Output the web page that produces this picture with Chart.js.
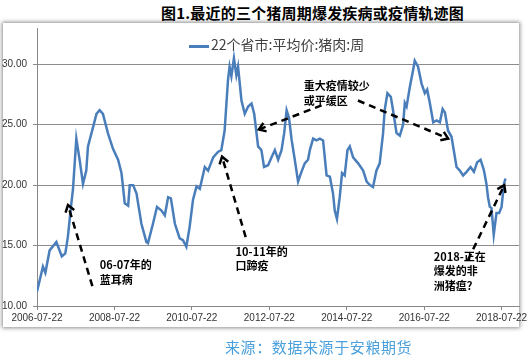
<!DOCTYPE html>
<html>

<head>
    <meta charset="utf-8" />
    <title>猪周期</title>
    <style>
        body { margin: 0; background: #fff; font-family: "Noto Sans CJK SC", sans-serif; }
        .page { position: relative; width: 532px; height: 362px; overflow: hidden; }
        .titulo { position: absolute; left: 161px; top: 2px; font-size: 15px; font-weight: bold; color: #000; white-space: nowrap; letter-spacing: 0.2px; }
        .caja { position: absolute; left: 3px; top: 23px; width: 516px; height: 304px; background: #fff;
                box-shadow: 0 0 4px 1px rgba(0, 0, 0, 0.45); }
        .leyenda { position: absolute; left: 189px; top: 34px; font-size: 14px; color: #404040; white-space: nowrap; }
        .leyenda span { display: inline-block; width: 20px; height: 3px; background: #4a7ebb; vertical-align: middle; margin-right: 2px; }
        .fuente { position: absolute; left: 225px; top: 336px; font-size: 15px; color: #4aa0dc; white-space: nowrap; letter-spacing: 0.6px; }
        canvas { position: absolute; left: 0; top: 0; }
    </style>
</head>

<body>
    <div class="page">
        <div class="titulo">图1.最近的三个猪周期爆发疾病或疫情轨迹图</div>
        <div class="caja"></div>
        <canvas id="chart" width="532" height="362"></canvas>
        <div class="leyenda"><span></span>22个省市:平均价:猪肉:周</div>
        <div class="fuente">来源：数据来源于安粮期货</div>
    </div>

    <script src="https://cdn.jsdelivr.net/npm/chart.js"></script>
    <script type="text/javascript">

        // fechas y precios
        const fechas = [
            '2006-07-22', '2006-09-16', '2006-10-09', '2006-11-18', '2007-01-21', '2007-03-13', '2007-04-15', '2007-05-09', '2007-06-11', '2007-06-26',
            '2007-07-28', '2007-08-28', '2007-09-29', '2007-10-30', '2007-11-15', '2008-01-02', '2008-02-03', '2008-03-04', '2008-04-04', '2008-05-21',
            '2008-07-08', '2008-08-25', '2008-09-26', '2008-10-27', '2008-11-28', '2008-12-13', '2009-01-14', '2009-02-15', '2009-04-02', '2009-05-19',
            '2009-06-03', '2009-07-20', '2009-08-27', '2009-10-08', '2009-11-09', '2009-12-10', '2010-01-05', '2010-02-12', '2010-03-29', '2010-04-29',
            '2010-05-31', '2010-07-01', '2010-08-02', '2010-09-04', '2010-10-05', '2010-11-21', '2010-12-22', '2011-02-08', '2011-03-25', '2011-04-26',
            '2011-05-27', '2011-06-28', '2011-07-13', '2011-07-30', '2011-08-23', '2011-09-15', '2011-10-01', '2011-11-02', '2011-12-03', '2012-01-04',
            '2012-02-05', '2012-03-01', '2012-04-07', '2012-05-08', '2012-06-02', '2012-07-10', '2012-08-12', '2012-09-12', '2012-10-13', '2012-11-14',
            '2012-12-09', '2013-01-01', '2013-01-23', '2013-02-18', '2013-03-19', '2013-04-19', '2013-05-21', '2013-06-21', '2013-07-22', '2013-08-08',
            '2013-09-08', '2013-10-10', '2013-11-10', '2013-12-11', '2014-01-13', '2014-02-13', '2014-03-15', '2014-03-31', '2014-04-21', '2014-05-17',
            '2014-06-08', '2014-07-03', '2014-07-29', '2014-08-20', '2014-09-20', '2014-11-07', '2014-12-24', '2015-01-26', '2015-02-26', '2015-03-27',
            '2015-04-28', '2015-05-29', '2015-06-30', '2015-07-15', '2015-08-10', '2015-09-11', '2015-10-02', '2015-11-04', '2015-12-05', '2016-01-05',
            '2016-01-21', '2016-02-07', '2016-03-08', '2016-04-08', '2016-04-24', '2016-05-25', '2016-06-27', '2016-07-28', '2016-08-19', '2016-09-14',
            '2016-10-15', '2016-11-16', '2016-12-17', '2017-01-12', '2017-02-03', '2017-03-04', '2017-04-06', '2017-04-21', '2017-05-23', '2017-06-23',
            '2017-07-24', '2017-08-26', '2017-10-02', '2017-11-03', '2017-12-04', '2018-01-05', '2018-02-06', '2018-03-01', '2018-03-16', '2018-04-02',
            '2018-04-18', '2018-05-09', '2018-06-04', '2018-06-29', '2018-07-22', '2018-08-13', '2018-08-28'
        ];

        const precios = [
            11.2, 13.25, 12.75, 14.6, 15.3, 14.1, 14.35, 15.7, 18.5, 19.6,
            23.85, 22.1, 20.1, 21.2, 23.2, 24.8, 25.9, 26.2, 25.9, 24.3,
            23.0, 22.1, 21.0, 18.5, 18.3, 20.0, 20.0, 19.3, 16.8, 15.3,
            15.2, 16.8, 18.2, 17.9, 17.5, 19.0, 18.9, 16.8, 15.6, 15.45,
            14.9, 16.55, 18.8, 19.9, 19.7, 21.5, 21.2, 22.3, 22.75, 22.9,
            24.5, 28.7, 29.8, 29.0, 30.5, 29.1, 29.8, 27.0, 25.9, 26.5,
            26.75, 25.9, 23.2, 22.9, 21.5, 21.65, 22.3, 22.9, 22.1, 22.9,
            24.3, 26.2, 25.6, 23.7, 22.1, 20.3, 21.1, 21.8, 22.1, 22.9,
            23.85, 23.7, 23.85, 23.7, 20.8, 20.7, 19.3, 17.9, 17.2, 19.0,
            21.0, 20.8, 22.9, 23.2, 22.3, 21.8, 21.2, 20.3, 20.0, 19.85,
            21.2, 21.8, 24.3, 26.2, 27.6, 27.3, 26.2, 24.3, 24.1, 25.0,
            26.8, 26.5, 28.1, 29.5, 30.3, 29.8, 28.4, 27.6, 27.9, 26.75,
            25.2, 25.35, 25.2, 26.3, 26.0, 24.5, 24.0, 23.2, 21.5, 21.2,
            20.8, 21.1, 21.5, 21.1, 21.9, 22.1, 21.2, 20.1, 19.0, 18.2,
            18.1, 15.9, 17.7, 17.7, 18.2, 20.1, 20.55
        ];

        const etiquetasX = ['2006-07-22', '2008-07-22', '2010-07-22', '2012-07-22', '2014-07-22', '2016-07-22', '2018-07-22'];
        const ticksY = [10, 15, 20, 25, 30];

        // flechas de las notas: [años desde el inicio, precio]
        const flechaDesde = [[1.43, 11.65], [5.39, 15.7], [7.35, 26.6], [8.29, 27.0], [11.13, 13.8]];
        const flechaHasta = [[0.80, 18.35], [4.78, 22.35], [5.73, 24.6], [10.62, 23.85], [12.07, 20.0]];
        const notas = ['06-07年的', '蓝耳病', '10-11年的', '口蹄疫', '重大疫情较少', '或平缓区', '2018-正在', '爆发的非', '洲猪瘟？'];
        const notasPos = [[1.62, 13.4], [1.62, 12.2], [5.13, 14.5], [5.13, 13.3], [6.89, 28.25], [6.89, 26.95], [10.25, 14.05], [10.25, 12.9], [10.25, 11.65]];

        const inicio = Date.parse('2006-07-22');
        function anios(f) {
            return (Date.parse(f) - inicio) / (365.25 * 864e5);
        }

        // dibuja las flechas punteadas y los textos
        const notasPlugin = {
            id: 'notas',
            afterDatasetsDraw(chart) {
                const ctx = chart.ctx;
                const x = chart.scales.x;
                const y = chart.scales.y;
                ctx.save();
                ctx.fillStyle = '#000';
                ctx.font = 'bold 11px "Noto Sans CJK SC"';
                ctx.textBaseline = 'middle';
                ctx.textAlign = 'left';
                notas.forEach((t, i) => {
                    ctx.fillText(t, x.getPixelForValue(notasPos[i][0]), y.getPixelForValue(notasPos[i][1]));
                });
                ctx.strokeStyle = '#000';
                ctx.lineWidth = 2.5;
                flechaDesde.forEach((d, i) => {
                    const h = flechaHasta[i];
                    const x1 = x.getPixelForValue(d[0]), y1 = y.getPixelForValue(d[1]);
                    const x2 = x.getPixelForValue(h[0]), y2 = y.getPixelForValue(h[1]);
                    ctx.setLineDash([7, 5]);
                    ctx.beginPath();
                    ctx.moveTo(x1, y1);
                    ctx.lineTo(x2, y2);
                    ctx.stroke();
                    const ang = Math.atan2(y2 - y1, x2 - x1);
                    ctx.setLineDash([]);
                    ctx.beginPath();
                    ctx.moveTo(x2 - 8 * Math.cos(ang - 0.6), y2 - 8 * Math.sin(ang - 0.6));
                    ctx.lineTo(x2, y2);
                    ctx.lineTo(x2 - 8 * Math.cos(ang + 0.6), y2 - 8 * Math.sin(ang + 0.6));
                    ctx.stroke();
                });
                ctx.restore();
            }
        };

        const ctx = document.getElementById('chart').getContext('2d');
        const myChart = new Chart(ctx, {
            type: 'line',
            data: {
                datasets: [{
                    label: '22个省市:平均价:猪肉:周',
                    data: fechas.map((f, i) => ({ x: anios(f), y: precios[i] })),
                    borderColor: '#4a7ebb',
                    borderWidth: 2.5,
                    pointRadius: 0,
                    tension: 0
                }]
            },
            options: {
                responsive: false,
                animation: false,
                layout: { padding: { left: 0, right: 13, top: 28, bottom: 36 } },
                plugins: {
                    legend: { display: false },
                    tooltip: { enabled: false }
                },
                scales: {
                    x: {
                        type: 'linear',
                        min: 0,
                        max: 12.45,
                        afterBuildTicks: s => { s.ticks = etiquetasX.map(e => ({ value: anios(e) })); },
                        afterFit: s => { s.height = 20; },
                        ticks: {
                            callback: (v, i) => etiquetasX[i],
                            autoSkip: false,
                            maxRotation: 0,
                            padding: 2,
                            color: '#333',
                            font: { family: 'Liberation Sans', size: 10 }
                        },
                        grid: { drawOnChartArea: false, tickLength: 4, color: '#888' },
                        border: { color: '#888' }
                    },
                    y: {
                        min: 10,
                        max: 33,
                        afterBuildTicks: s => { s.ticks = ticksY.map(v => ({ value: v })); },
                        afterFit: s => { s.width = 37; },
                        ticks: {
                            callback: v => v.toFixed(2),
                            padding: 6,
                            color: '#333',
                            font: { family: 'Liberation Sans', size: 10 }
                        },
                        grid: { color: '#8c8c8c', tickLength: 4 },
                        border: { color: '#888' }
                    }
                }
            },
            plugins: [notasPlugin]
        });

    </script>

</body>

</html>
